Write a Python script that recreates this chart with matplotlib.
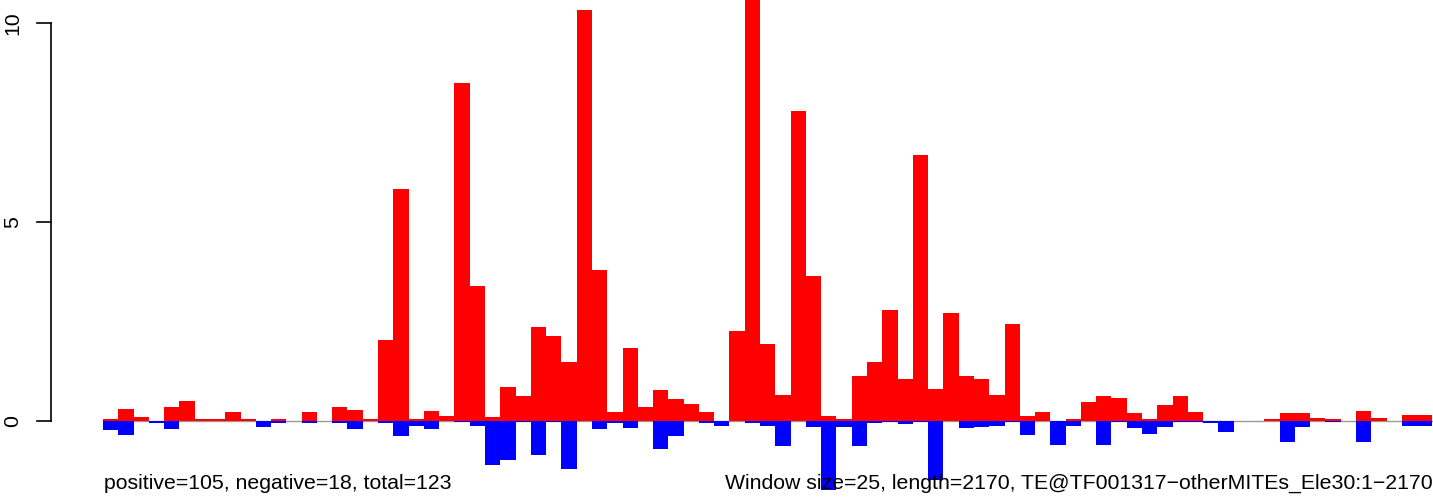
import numpy as np
import matplotlib
matplotlib.use("Agg")
import matplotlib.pyplot as plt

# read depth per 25-bp window (87 windows over 2170 bp)
pos_vals = [0.04, 0.29, 0.09, 0, 0.34, 0.51, 0.04, 0.06, 0.22, 0.04,
            0, 0.04, 0, 0.22, 0, 0.35, 0.28, 0.05, 2.04, 5.83,
            0.05, 0.25, 0.13, 8.49, 3.39, 0.10, 0.85, 0.63, 2.36, 2.14,
            1.48, 10.33, 3.79, 0.23, 1.83, 0.35, 0.78, 0.55, 0.43, 0.23,
            0, 2.26, 10.9, 1.93, 0.66, 7.79, 3.64, 0.13, 0.05, 1.13,
            1.48, 2.79, 1.06, 6.68, 0.80, 2.71, 1.13, 1.06, 0.66, 2.44,
            0.13, 0.23, 0, 0.05, 0.48, 0.63, 0.58, 0.20, 0.05, 0.40,
            0.63, 0.23, 0, 0, 0, 0, 0.05, 0.20, 0.20, 0.07,
            0.05, 0, 0.25, 0.07, 0, 0.15, 0.15]
neg_vals = [-0.22, -0.34, 0, -0.04, -0.19, 0, 0, 0, 0, 0,
            -0.14, -0.04, 0, -0.04, 0, -0.04, -0.19, 0, -0.04, -0.37,
            -0.12, -0.19, 0, -0.02, -0.12, -1.10, -0.97, -0.02, -0.85, -0.02,
            -1.21, 0, -0.19, -0.04, -0.17, 0, -0.70, -0.37, 0, -0.04,
            -0.12, 0, -0.04, -0.12, -0.64, 0, -0.14, -1.73, -0.14, -0.64,
            -0.04, -0.02, -0.07, -0.02, -1.48, 0, -0.17, -0.14, -0.12, -0.03,
            -0.34, 0, -0.60, -0.13, 0, -0.60, -0.03, -0.18, -0.33, -0.15,
            -0.03, -0.03, -0.05, -0.28, 0, 0, 0, -0.52, -0.14, 0,
            -0.03, 0, -0.54, 0, 0, -0.13, -0.13]
y_ticks = [0, 5, 10]
left_text = "positive=105, negative=18, total=123"
right_text = "Window size=25, length=2170, TE@TF001317\u2212otherMITEs_Ele30:1\u22122170"

plt.rcParams['font.family'] = ['Liberation Sans', 'DejaVu Sans']

W, H = 1433, 499
fig = plt.figure(figsize=(W / 100, H / 100), dpi=100)
ax = fig.add_axes([0, 0, 1, 1])
ax.axis('off')

# pixel mapping: bar 0 starts at x=103, each window 15.28 px; y=0 at 421, 10 at 23
px_x = 15.28
px_y = 39.8
x0_px, y0_px = 103, 421
ax.set_xlim(-x0_px / px_x, (W - x0_px) / px_x)
ax.set_ylim(-(H - y0_px) / px_y, y0_px / px_y)

n = len(pos_vals)
x = np.arange(n)
ax.plot([0, n], [0, 0], color='#999999', lw=1, zorder=1)
ax.bar(x, pos_vals, width=1, align='edge', color='#FF0000', linewidth=0, zorder=2)
ax.bar(x, neg_vals, width=1, align='edge', color='#0000FF', linewidth=0, zorder=2)

# y axis in R style
fs = 15.3
ax_x = (51 - x0_px) / px_x
tick_x = (37 - x0_px) / px_x
ax.plot([ax_x, ax_x], [0, 10], color='black', lw=1.2, clip_on=False)
for t in y_ticks:
    ax.plot([tick_x, ax_x], [t, t], color='black', lw=1.2)
    ax.text((13 - x0_px) / px_x, t, str(t), rotation=90, ha='center', va='center',
            fontsize=fs)

base_y = (y0_px - 489) / px_y
ax.text(0.05, base_y, left_text, ha='left', va='baseline', fontsize=fs)
ax.text(n, base_y, right_text, ha='right', va='baseline', fontsize=fs)

fig.savefig("out.png", dpi=100)
